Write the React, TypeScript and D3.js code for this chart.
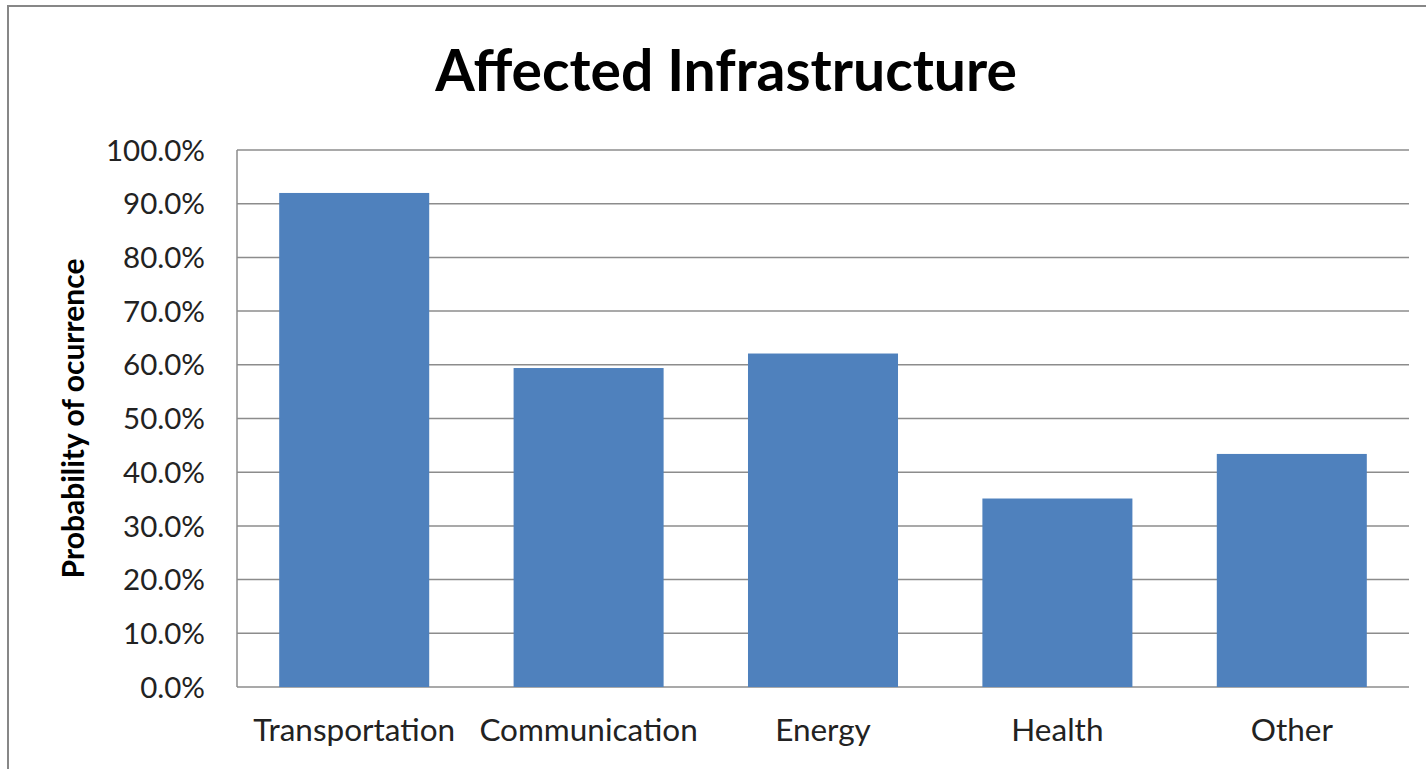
import * as d3 from 'd3'

const categories = ['Transportation', 'Communication', 'Energy', 'Health', 'Other']
const probabilities = [0.92, 0.594, 0.621, 0.351, 0.434]
const yTicks = [0, 0.1, 0.2, 0.3, 0.4, 0.5, 0.6, 0.7, 0.8, 0.9, 1.0]

const W = 1426
const H = 769
const margin = { top: 150, right: 17, bottom: 82, left: 237 }
const font = 'Lato, "Open Sans", sans-serif'

const App = () => {
  const xScale = d3
    .scaleBand<string>()
    .domain(categories)
    .range([margin.left, W - margin.right])
    .paddingInner(0.36)
    .paddingOuter(0.18)

  const yScale = d3.scaleLinear().domain([0, 1]).range([H - margin.bottom, margin.top])
  const fmt = d3.format('.1%')

  return (
    <svg width={W} height={H} style={{ position: 'absolute', left: 0, top: 0, background: '#fff' }}>
      <rect x={8} y={6} width={W + 20} height={H + 20} fill="none" stroke="#878787" strokeWidth={2} />
      <text x={726} y={91} textAnchor="middle" fontFamily={font} fontWeight="bold" fontSize={57} fill="#000">
        Affected Infrastructure
      </text>
      {yTicks.map(t => (
        <g key={t}>
          <line
            x1={margin.left}
            x2={W - margin.right}
            y1={yScale(t)}
            y2={yScale(t)}
            stroke="#8c8c8c"
            strokeWidth={1.5}
          />
          <text
            x={205}
            y={yScale(t)}
            dy="0.36em"
            textAnchor="end"
            fontFamily={font}
            fontSize={29.5}
            fill="#222"
          >
            {fmt(t)}
          </text>
        </g>
      ))}
      <line
        x1={margin.left}
        x2={margin.left}
        y1={yScale(0)}
        y2={yScale(1)}
        stroke="#8c8c8c"
        strokeWidth={1.5}
      />
      {categories.map((c, i) => (
        <rect
          key={c}
          x={xScale(c)}
          y={yScale(probabilities[i])}
          width={xScale.bandwidth()}
          height={yScale(0) - yScale(probabilities[i])}
          fill="#4f81bd"
        />
      ))}
      {categories.map(c => (
        <text
          key={c}
          x={(xScale(c) ?? 0) + xScale.bandwidth() / 2}
          y={741}
          textAnchor="middle"
          fontFamily={font}
          fontSize={31.5}
          fill="#222"
        >
          {c}
        </text>
      ))}
      <text
        transform={`translate(84, ${yScale(0.5)}) rotate(-90)`}
        textAnchor="middle"
        fontFamily={font}
        fontWeight="bold"
        fontSize={30}
        fill="#000"
      >
        Probability of ocurrence
      </text>
    </svg>
  )
}

export default App
